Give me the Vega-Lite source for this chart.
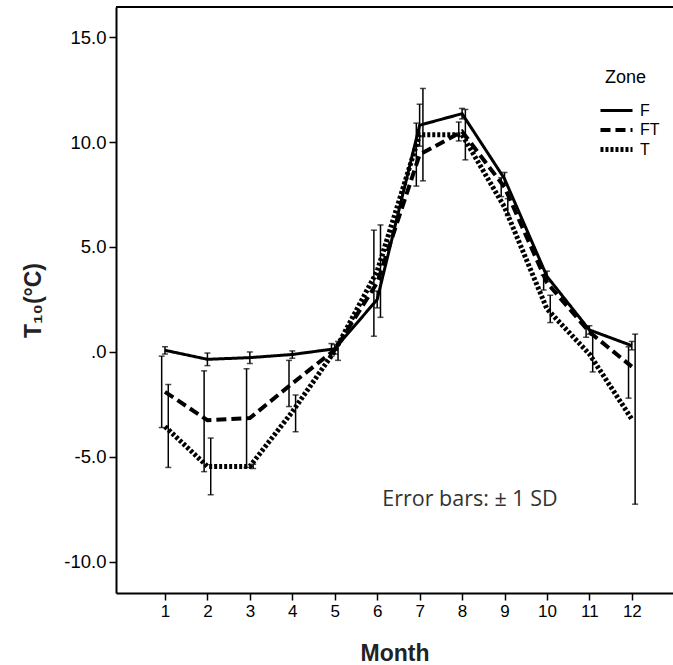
{
  "$schema": "https://vega.github.io/schema/vega-lite/v6.json",
  "width": 557,
  "height": 586,
  "autosize": {"type": "none"},
  "padding": {"left": 116, "top": 7, "right": 0, "bottom": 72},
  "background": "white",
  "data": {
    "values": [
      {"Month": 1, "Zone": "F", "Mean": 0.08, "Lo": -0.1, "Hi": 0.25},
      {"Month": 2, "Zone": "F", "Mean": -0.35, "Lo": -0.65, "Hi": -0.05},
      {"Month": 3, "Zone": "F", "Mean": -0.27, "Lo": -0.55, "Hi": 0.0},
      {"Month": 4, "Zone": "F", "Mean": -0.12, "Lo": -0.3, "Hi": 0.05},
      {"Month": 5, "Zone": "F", "Mean": 0.15, "Lo": -0.1, "Hi": 0.35},
      {"Month": 6, "Zone": "F", "Mean": 2.5, "Lo": 2.1, "Hi": 2.9},
      {"Month": 7, "Zone": "F", "Mean": 10.8, "Lo": 9.8, "Hi": 11.8},
      {"Month": 8, "Zone": "F", "Mean": 11.35, "Lo": 11.1, "Hi": 11.6},
      {"Month": 9, "Zone": "F", "Mean": 8.25, "Lo": 7.95, "Hi": 8.55},
      {"Month": 10, "Zone": "F", "Mean": 3.6, "Lo": 3.35, "Hi": 3.85},
      {"Month": 11, "Zone": "F", "Mean": 1.05, "Lo": 0.85, "Hi": 1.25},
      {"Month": 12, "Zone": "F", "Mean": 0.3, "Lo": 0.1, "Hi": 0.5},
      {"Month": 1, "Zone": "FT", "Mean": -1.9, "Lo": -3.6, "Hi": -0.2},
      {"Month": 2, "Zone": "FT", "Mean": -3.25, "Lo": -5.7, "Hi": -0.9},
      {"Month": 3, "Zone": "FT", "Mean": -3.15, "Lo": -5.5, "Hi": -0.8},
      {"Month": 4, "Zone": "FT", "Mean": -1.5, "Lo": -2.6, "Hi": -0.4},
      {"Month": 5, "Zone": "FT", "Mean": 0.1, "Lo": -0.2, "Hi": 0.4},
      {"Month": 6, "Zone": "FT", "Mean": 3.3, "Lo": 0.75, "Hi": 5.8},
      {"Month": 7, "Zone": "FT", "Mean": 9.4, "Lo": 7.9, "Hi": 10.9},
      {"Month": 8, "Zone": "FT", "Mean": 10.5, "Lo": 10.05, "Hi": 10.95},
      {"Month": 9, "Zone": "FT", "Mean": 7.85, "Lo": 7.4, "Hi": 8.3},
      {"Month": 10, "Zone": "FT", "Mean": 3.3, "Lo": 2.95, "Hi": 3.65},
      {"Month": 11, "Zone": "FT", "Mean": 0.95, "Lo": 0.7, "Hi": 1.2},
      {"Month": 12, "Zone": "FT", "Mean": -0.7, "Lo": -2.2, "Hi": 0.25},
      {"Month": 1, "Zone": "T", "Mean": -3.55, "Lo": -5.5, "Hi": -1.55},
      {"Month": 2, "Zone": "T", "Mean": -5.45, "Lo": -6.8, "Hi": -4.1},
      {"Month": 3, "Zone": "T", "Mean": -5.45, "Lo": -5.55, "Hi": -5.35},
      {"Month": 4, "Zone": "T", "Mean": -2.85, "Lo": -3.8, "Hi": -2.05},
      {"Month": 5, "Zone": "T", "Mean": 0.05, "Lo": -0.4, "Hi": 0.5},
      {"Month": 6, "Zone": "T", "Mean": 3.85, "Lo": 1.65, "Hi": 6.05},
      {"Month": 7, "Zone": "T", "Mean": 10.35, "Lo": 8.15, "Hi": 12.55},
      {"Month": 8, "Zone": "T", "Mean": 10.35, "Lo": 9.15, "Hi": 11.55},
      {"Month": 9, "Zone": "T", "Mean": 6.9, "Lo": 6.5, "Hi": 7.3},
      {"Month": 10, "Zone": "T", "Mean": 2.05, "Lo": 1.4, "Hi": 2.7},
      {"Month": 11, "Zone": "T", "Mean": -0.1, "Lo": -0.95, "Hi": 0.8},
      {"Month": 12, "Zone": "T", "Mean": -3.2, "Lo": -7.25, "Hi": 0.85}
    ]
  },
  "layer": [
    {
      "mark": {"type": "rule", "color": "black", "strokeWidth": 2},
      "encoding": {"y": {"datum": 16.43, "type": "quantitative"}}
    },
    {
      "mark": {"type": "line", "color": "black", "strokeCap": "butt"},
      "encoding": {
        "x": {
          "field": "Month", "type": "quantitative",
          "scale": {"domain": [-0.154, 12.97], "nice": false, "zero": false},
          "axis": {"values": [1,2,3,4,5,6,7,8,9,10,11,12], "title": "Month", "labelPadding": 3, "titlePadding": 23, "labelFontSize": 17}
        },
        "y": {
          "field": "Mean", "type": "quantitative",
          "scale": {"domain": [-11.48, 16.43], "nice": false, "zero": false},
          "axis": {"values": [-10,-5,0,5,10,15], "title": "T₁₀(°C)", "labelPadding": 3, "titlePadding": 18, "labelFontSize": 18.5,
                   "labelExpr": "datum.value === 0 ? '.0' : replace(format(datum.value, '.1f'), '−', '-')"}
        },
        "strokeDash": {
          "field": "Zone", "type": "nominal",
          "scale": {"domain": ["F", "FT", "T"], "range": [[1, 0], [10, 5], [3, 2]]},
          "legend": {"title": "Zone"}
        },
        "strokeWidth": {
          "field": "Zone", "type": "nominal",
          "scale": {"domain": ["F", "FT", "T"], "range": [3, 5, 1.9]},
          "legend": {"title": "Zone"}
        }
      }
    },
    {
      "mark": {"type": "rule", "color": "black", "strokeWidth": 1.5,
               "xOffset": {"expr": "datum.Zone === 'FT' ? -3.3 : (datum.Zone === 'T' ? 3.3 : 0)"}},
      "encoding": {
        "x": {"field": "Month", "type": "quantitative"},
        "y": {"field": "Lo", "type": "quantitative"},
        "y2": {"field": "Hi"}
      }
    },
    {
      "mark": {"type": "tick", "color": "black", "thickness": 1.5, "size": 6, "orient": "horizontal",
               "xOffset": {"expr": "datum.Zone === 'FT' ? -3.3 : (datum.Zone === 'T' ? 3.3 : 0)"}},
      "encoding": {
        "x": {"field": "Month", "type": "quantitative"},
        "y": {"field": "Lo", "type": "quantitative"}
      }
    },
    {
      "mark": {"type": "tick", "color": "black", "thickness": 1.5, "size": 6, "orient": "horizontal",
               "xOffset": {"expr": "datum.Zone === 'FT' ? -3.3 : (datum.Zone === 'T' ? 3.3 : 0)"}},
      "encoding": {
        "x": {"field": "Month", "type": "quantitative"},
        "y": {"field": "Hi", "type": "quantitative"}
      }
    },
    {
      "data": {"values": [{"Month": 6.12, "Mean": -7.05, "Label": "Error bars: ± 1 SD"}]},
      "mark": {"type": "text", "align": "left", "baseline": "middle", "font": "Open Sans", "fontSize": 21.5, "color": "#333"},
      "encoding": {
        "x": {"field": "Month", "type": "quantitative"},
        "y": {"field": "Mean", "type": "quantitative"},
        "text": {"field": "Label"}
      }
    }
  ],
  "config": {
    "view": {"stroke": null},
    "font": "Liberation Sans",
    "axis": {
      "domainColor": "black", "domainWidth": 2, "tickColor": "black", "tickWidth": 1.5, "tickSize": 7,
      "labelFont": "Liberation Sans", "titleFont": "Liberation Sans",
      "labelColor": "black", "titleFontSize": 23, "titleFontWeight": "bold", "titleColor": "#222", "grid": false
    },
    "legend": {
      "orient": "none", "legendX": 489, "legendY": 62,
      "titleFont": "Liberation Sans", "labelFont": "Liberation Sans",
      "titleFontSize": 18, "titleFontWeight": "normal", "titleColor": "black",
      "labelFontSize": 16, "labelColor": "black", "symbolType": "M-1.78,0H1.78", "symbolSize": 324, "symbolStrokeColor": "black",
      "rowPadding": -0.5, "titlePadding": 13, "labelOffset": 12
    }
  }
}
